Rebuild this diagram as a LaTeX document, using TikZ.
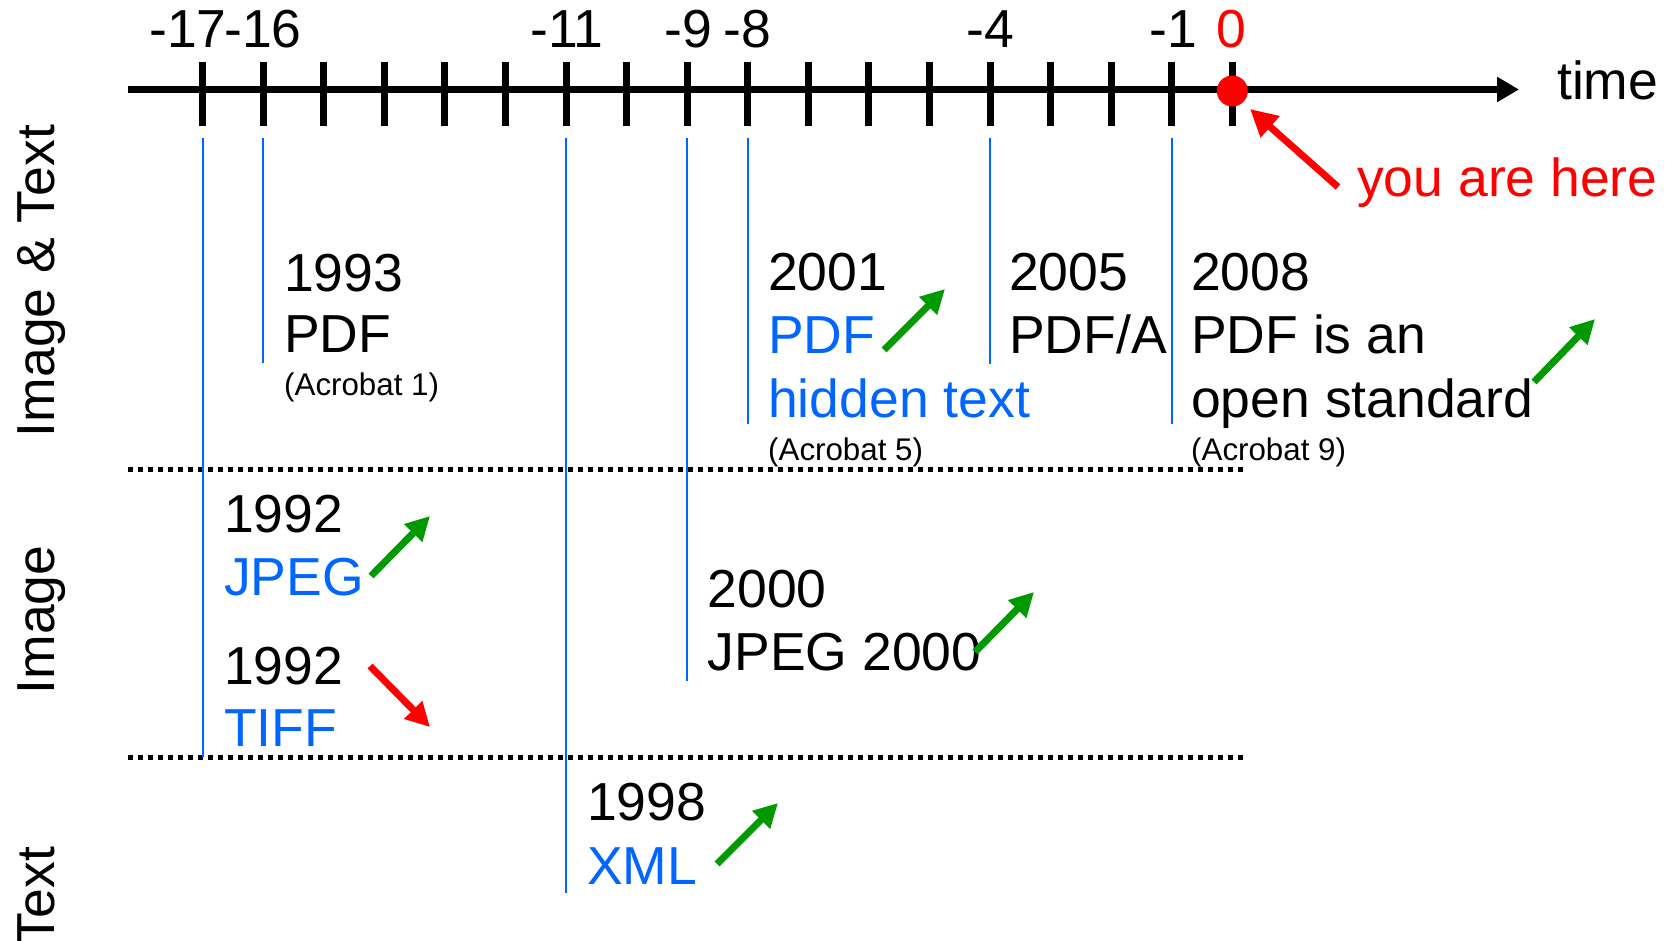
\documentclass[tikz,border=0pt]{standalone}
\usepackage{fontspec}
\setmainfont{Liberation Sans}
\usetikzlibrary{arrows.meta}
\definecolor{tblue}{HTML}{0066FF}
\definecolor{tgreen}{HTML}{009900}
\definecolor{tred}{HTML}{FF0000}
\begin{document}
\begin{tikzpicture}[x=1pt,y=-1pt,
  big/.style={font=\fontsize{53.5}{63}\selectfont, inner sep=0pt, anchor=base west},
  small/.style={font=\fontsize{31.3}{36}\selectfont, inner sep=0pt, anchor=base west},
  ticklab/.style={font=\fontsize{53.5}{63}\selectfont, inner sep=0pt, anchor=base},
  side/.style={font=\fontsize{53.5}{63}\selectfont, inner sep=0pt, anchor=base, rotate=90},
  era/.style={draw=tblue, line width=1.8pt},
  sep/.style={line width=5pt, dash pattern=on 5pt off 5pt},
  tickmark/.style={line width=7pt},
  up/.style={tgreen, line width=7pt, -{Triangle[length=24pt,width=24pt]}},
  down/.style={tred, line width=7pt, -{Triangle[length=24pt,width=24pt]}},
]
\useasboundingbox (0,0) rectangle (1672,941);

% axis
\coordinate (axL) at (128,89.5);
\coordinate (axR) at (1519,89.5);
\draw[line width=7pt, -{Triangle[length=22pt,width=24pt]}] (axL) -- (axR);
\foreach \k in {0,...,17} {
  \coordinate (tk\k) at ({202.6+60.57*\k},89.5);
  \draw[tickmark] ({202.6+60.57*\k},62) -- ({202.6+60.57*\k},126);
}

% tick labels
\node[ticklab] (l17) at (188,48) {-17};
\node[ticklab] (l16) at (263,48) {-16};
\node[ticklab] (l11) at (567,48) {-11};
\node[ticklab] (l9) at (688,48) {-9};
\node[ticklab] (l8) at (747,48) {-8};
\node[ticklab] (l4) at (990,48) {-4};
\node[ticklab] (l1) at (1173,48) {-1};
\node[ticklab, text=tred] (l0) at (1231,48) {0};
\node[big] (time) at (1557,100) {time};

% you are here
\node[circle, fill=tred, minimum size=31pt, inner sep=0pt] (dot) at (1232.3,91) {};
\node[big, text=tred] (here) at (1357,197) {you are here};
\coordinate (hs) at (1338,187);
\coordinate (he) at (1250,109);
\draw[down, -{Triangle[length=27pt,width=27pt]}] (hs) -- (he);

% separators
\coordinate (sepAL) at (128,469);
\coordinate (sepAR) at (1246,469);
\coordinate (sepBL) at (128,757);
\coordinate (sepBR) at (1246,757);
\draw[sep] (sepAL) -- (sepAR);
\draw[sep] (sepBL) -- (sepBR);

% era lines
\coordinate (top) at (0,138);
\draw[era] (tk0 |- top) -- (tk0 |- sepBL);
\draw[era] (tk1 |- top) -- (tk1 |- 0,363);
\draw[era] (tk6 |- top) -- (tk6 |- 0,893);
\draw[era] (tk8 |- top) -- (tk8 |- 0,681);
\draw[era] (tk9 |- top) -- (tk9 |- 0,424);
\draw[era] (tk13 |- top) -- (tk13 |- 0,364);
\draw[era] (tk16 |- top) -- (tk16 |- 0,424);

% side labels
\node[side] (lab1) at (54,281) {Image \& Text};
\node[side] (lab2) at (54,620) {Image};
\node[side] (lab3) at (54,896) {Text};

% Image & Text
\node[big] (y1993) at (284,291) {1993};
\node[big] (pdf1) at (284,352) {PDF};
\node[small] (acr1) at (284,395) {(Acrobat 1)};

\node[big] (y2001) at (768,290) {2001};
\node[big, text=tblue] (pdf2) at (768,353) {PDF};
\node[big, text=tblue] (hid) at (768,417) {hidden text};
\node[small] (acr5) at (768,460) {(Acrobat 5)};

\node[big] (y2005) at (1009,290) {2005};
\node[big] (pdfa) at (1009,353) {PDF/A};

\node[big] (y2008) at (1191,290) {2008};
\node[big] (open1) at (1191,353) {PDF is an};
\node[big] (open2) at (1191,417) {open standard};
\node[small] (acr9) at (1191,460) {(Acrobat 9)};

% Image
\node[big] (y1992a) at (224,532) {1992};
\node[big, text=tblue] (jpeg) at (224,595) {JPEG};
\node[big] (y1992b) at (224,684) {1992};
\node[big, text=tblue] (tiff) at (224,746) {TIFF};
\node[big] (y2000) at (707.5,607) {2000};
\node[big] (jp2) at (707.5,670) {JPEG 2000};

% Text
\node[big] (y1998) at (587,820) {1998};
\node[big, text=tblue] (xml) at (587,884) {XML};

% trend arrows
\coordinate (a1s) at (371,576); \coordinate (a1e) at (430,516);
\coordinate (a2s) at (370,666); \coordinate (a2e) at (430,727);
\coordinate (a3s) at (884,350); \coordinate (a3e) at (945,289);
\coordinate (a4s) at (1534,382); \coordinate (a4e) at (1595,319);
\coordinate (a5s) at (975,652); \coordinate (a5e) at (1034,592);
\coordinate (a6s) at (717,864); \coordinate (a6e) at (778,803);
\draw[up] (a1s) -- (a1e);
\draw[down] (a2s) -- (a2e);
\draw[up] (a3s) -- (a3e);
\draw[up] (a4s) -- (a4e);
\draw[up] (a5s) -- (a5e);
\draw[up] (a6s) -- (a6e);
\end{tikzpicture}
\end{document}
